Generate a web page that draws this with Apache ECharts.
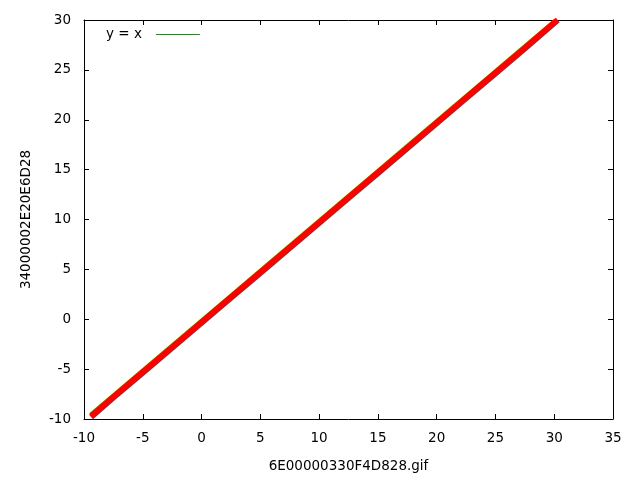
<!DOCTYPE html>
<html><head><meta charset="utf-8">
<script src="https://cdn.jsdelivr.net/npm/echarts@6/dist/echarts.min.js"></script>
<style>html,body{margin:0;padding:0;background:#fff}#c{width:640px;height:480px}</style>
</head><body><div id="c"></div>
<script>
const xTicks = [-10, -5, 0, 5, 10, 15, 20, 25, 30, 35];
const yTicks = [-10, -5, 0, 5, 10, 15, 20, 25, 30];
const lineX = [-9.5, 30];
const lineY = [-9.5, 30];
const dataX = [-9.4, -7.5, -5.0, -2.5, 0.0, 2.5, 5.0, 7.5, 10.0, 12.5, 15.0, 17.5, 20.0, 22.5, 25.0, 27.5, 30.3];
const dataY = [-9.8, -7.85, -5.35, -2.85, -0.35, 2.15, 4.65, 7.15, 9.65, 12.15, 14.65, 17.15, 19.65, 22.15, 24.65, 27.15, 30.0];
const xLabel = '6E00000330F4D828.gif';
const yLabel = '34000002E20E6D28';
const legendName = 'y = x';

const chart = echarts.init(document.getElementById('c'));
const font = 'DejaVu Sans, sans-serif';
const fs = 13.5;
const axisCommon = {
  axisLine: {show: true, onZero: false, lineStyle: {color: '#000', width: 1}},
  axisTick: {show: true, inside: true, length: 5, lineStyle: {color: '#000'}},
  splitLine: {show: false}
};
chart.setOption({
  animation: false,
  backgroundColor: '#fff',
  grid: {left: 84, right: 27, top: 20, bottom: 61, containLabel: false},
  legend: {
    data: [legendName], left: 101, top: 22.5, align: 'right', icon: 'rect',
    itemWidth: 44, itemHeight: 1, itemGap: 10,
    textStyle: {fontFamily: font, fontSize: fs, color: '#000', padding: [0, 9, 0, 0]}
  },
  xAxis: [
    Object.assign({type: 'value', min: -10, max: 35, interval: 5, position: 'bottom',
      axisLabel: {fontFamily: font, fontSize: fs, color: '#000', margin: 12},
      name: xLabel, nameLocation: 'middle', nameGap: 40,
      nameTextStyle: {fontFamily: font, fontSize: fs, color: '#000'}}, axisCommon),
    Object.assign({type: 'value', min: -10, max: 35, interval: 5, position: 'top',
      axisLabel: {show: false}}, axisCommon)
  ],
  yAxis: [
    Object.assign({type: 'value', min: -10, max: 30, interval: 5, position: 'left',
      axisLabel: {fontFamily: font, fontSize: fs, color: '#000', margin: 13},
      name: yLabel, nameLocation: 'middle', nameGap: 51,
      nameTextStyle: {fontFamily: font, fontSize: fs, color: '#000'}}, axisCommon),
    Object.assign({type: 'value', min: -10, max: 30, interval: 5, position: 'right',
      axisLabel: {show: false}}, axisCommon)
  ],
  series: [
    {name: legendName, type: 'line', symbol: 'none', clip: true,
      data: lineX.map((x, i) => [x, lineY[i]]),
      lineStyle: {color: '#00a000', width: 2}, itemStyle: {color: '#00a000'}},
    {name: 'data', type: 'line', symbol: 'none', clip: true,
      data: dataX.map((x, i) => [x, dataY[i]]),
      lineStyle: {color: '#ff0000', width: 6}, itemStyle: {color: '#ff0000'}}
  ]
});
</script></body></html>
